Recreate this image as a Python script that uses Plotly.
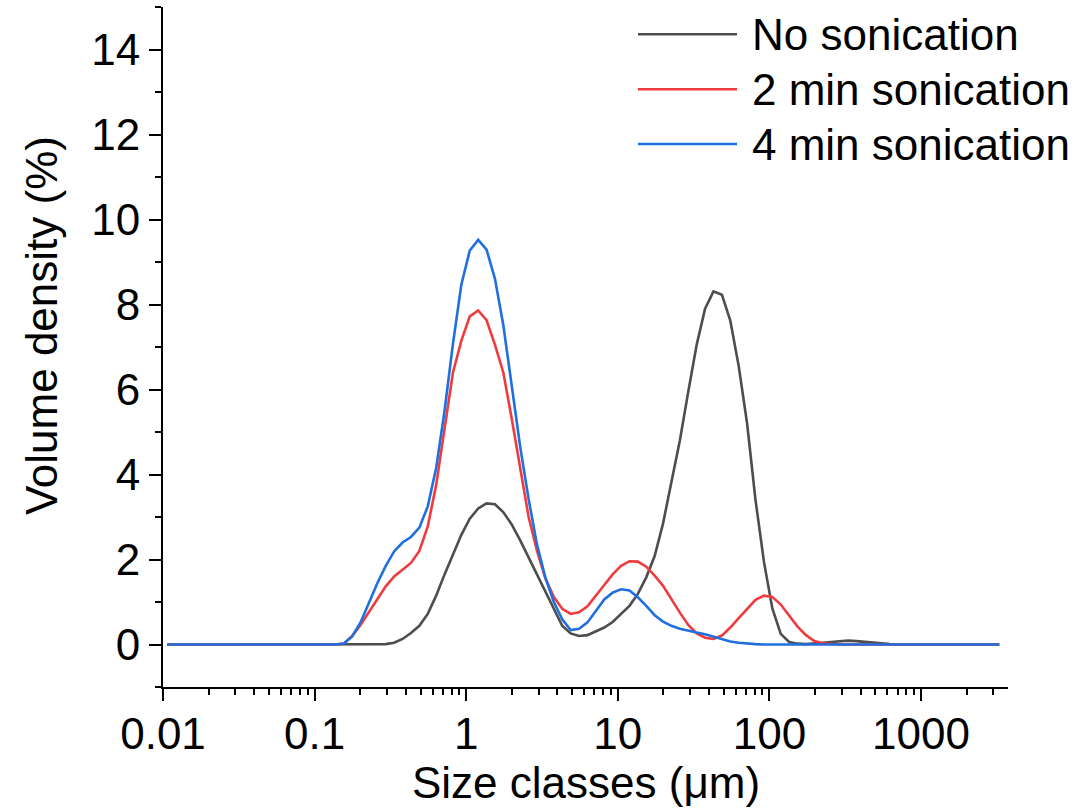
import plotly.graph_objects as go

# Size classes (µm), geometric bin centres
sizes = [
    0.01066, 0.01211, 0.01376, 0.01563, 0.01776, 0.02018, 0.02293, 0.02605, 0.02960, 0.03363,
    0.03821, 0.04341, 0.04932, 0.05604, 0.06367, 0.07234, 0.08219, 0.09338, 0.1061, 0.1205,
    0.1369, 0.1556, 0.1768, 0.2009, 0.2282, 0.2593, 0.2946, 0.3347, 0.3803, 0.4321,
    0.4909, 0.5578, 0.6337, 0.7200, 0.8180, 0.9292, 1.056, 1.200, 1.363, 1.549,
    1.760, 2.000, 2.272, 2.581, 2.932, 3.332, 3.785, 4.300, 4.886, 5.551,
    6.307, 7.166, 8.141, 9.248, 10.51, 11.94, 13.56, 15.41, 17.51, 19.89,
    22.60, 25.67, 29.17, 33.14, 37.65, 42.78, 48.61, 55.23, 62.75, 71.29,
    81.00, 92.03, 104.6, 118.8, 135.0, 153.4, 174.3, 198.0, 224.9, 255.6,
    290.4, 329.9, 374.8, 425.9, 483.9, 549.7, 624.6, 709.6, 806.3, 916.0,
    1041, 1183, 1344, 1527, 1735, 1971, 2239, 2544, 2891, 3284,
]

# Volume density (%) per size class
no_sonication = [
    0, 0, 0, 0, 0, 0, 0, 0, 0, 0,
    0, 0, 0, 0, 0, 0, 0, 0, 0, 0,
    0, 0, 0, 0, 0, 0, 0.01, 0.04, 0.13, 0.27,
    0.44, 0.72, 1.15, 1.65, 2.13, 2.58, 2.96, 3.20, 3.32, 3.30,
    3.11, 2.82, 2.45, 2.05, 1.63, 1.21, 0.81, 0.44, 0.26, 0.20,
    0.22, 0.31, 0.40, 0.53, 0.71, 0.91, 1.19, 1.58, 2.08, 2.85,
    3.83, 4.80, 5.95, 7.05, 7.90, 8.31, 8.23, 7.62, 6.55, 5.20,
    3.40, 1.95, 0.85, 0.25, 0.06, 0.02, 0.01, 0.02, 0.04, 0.06,
    0.08, 0.09, 0.08, 0.06, 0.04, 0.02, 0.01, 0, 0, 0,
    0, 0, 0, 0, 0, 0, 0, 0, 0, 0,
]

sonication_2min = [
    0, 0, 0, 0, 0, 0, 0, 0, 0, 0,
    0, 0, 0, 0, 0, 0, 0, 0, 0, 0,
    0, 0.02, 0.20, 0.46, 0.76, 1.09, 1.37, 1.60, 1.76, 1.92,
    2.20, 2.78, 3.75, 5.03, 6.40, 7.15, 7.72, 7.86, 7.63, 7.05,
    6.39, 5.30, 4.15, 3.00, 2.20, 1.55, 1.12, 0.84, 0.72, 0.76,
    0.90, 1.14, 1.40, 1.65, 1.85, 1.96, 1.95, 1.83, 1.62, 1.38,
    1.06, 0.75, 0.46, 0.26, 0.16, 0.13, 0.21, 0.40, 0.62, 0.84,
    1.05, 1.15, 1.12, 0.94, 0.68, 0.42, 0.22, 0.08, 0.03, 0.01,
    0, 0, 0, 0, 0, 0, 0, 0, 0, 0,
    0, 0, 0, 0, 0, 0, 0, 0, 0, 0,
]

sonication_4min = [
    0, 0, 0, 0, 0, 0, 0, 0, 0, 0,
    0, 0, 0, 0, 0, 0, 0, 0, 0, 0,
    0, 0.02, 0.19, 0.52, 0.98, 1.44, 1.85, 2.19, 2.40, 2.53,
    2.75, 3.25, 4.15, 5.50, 7.08, 8.47, 9.27, 9.52, 9.29, 8.60,
    7.50, 6.05, 4.65, 3.42, 2.35, 1.57, 1.00, 0.59, 0.34, 0.37,
    0.52, 0.79, 1.06, 1.22, 1.30, 1.27, 1.11, 0.91, 0.69, 0.54,
    0.44, 0.37, 0.32, 0.28, 0.24, 0.18, 0.12, 0.07, 0.04, 0.02,
    0.01, 0, 0, 0, 0, 0, 0, 0, 0, 0,
    0, 0, 0, 0, 0, 0, 0, 0, 0, 0,
    0, 0, 0, 0, 0, 0, 0, 0, 0, 0,
]

series_names = ["No sonication", "2 min sonication", "4 min sonication"]
series_colors = ["#4d4d4d", "#ef3b3d", "#1f6fe0"]
series_values = [no_sonication, sonication_2min, sonication_4min]

x_tick_vals = [0.01, 0.1, 1, 10, 100, 1000]
x_tick_text = ["0.01", "0.1", "1", "10", "100", "1000"]
x_minor_vals = [m * d for d in (0.01, 0.1, 1, 10, 100) for m in range(2, 10)] + [2000, 3000]

FONT = "Arial, Liberation Sans, sans-serif"

fig = go.Figure()
for name, color, vals in zip(series_names, series_colors, series_values):
    fig.add_trace(go.Scatter(
        x=sizes, y=vals, mode="lines", name=name,
        line=dict(color=color, width=2.6), showlegend=False,
    ))

# Hand-drawn legend: long line samples with labels to the right
legend_rows_y = [0.9599, 0.8790, 0.7985]
for name, color, ly in zip(series_names, series_colors, legend_rows_y):
    fig.add_shape(type="line", xref="paper", yref="paper",
                  x0=0.5621, x1=0.6793, y0=ly, y1=ly,
                  line=dict(color=color, width=2.6))
    fig.add_annotation(xref="paper", yref="paper", x=0.6950, y=ly,
                       xanchor="left", yanchor="middle", text=name,
                       showarrow=False, font=dict(family=FONT, size=44, color="black"))

# Axis titles
fig.add_annotation(xref="paper", yref="paper", x=0.5, y=-0.141,
                   xanchor="center", yanchor="middle", text="Size classes (μm)",
                   showarrow=False, font=dict(family=FONT, size=44, color="black"))
fig.add_annotation(xref="paper", yref="paper", x=-0.143, y=0.531,
                   xanchor="center", yanchor="middle", text="Volume density (%)",
                   textangle=-90, showarrow=False,
                   font=dict(family=FONT, size=44, color="black"))

fig.update_layout(
    width=1081, height=812,
    margin=dict(l=163, r=73, t=7, b=125),
    paper_bgcolor="white", plot_bgcolor="white",
    font=dict(family=FONT, size=44, color="black"),
    xaxis=dict(
        type="log", range=[-2, 3.574],
        tickmode="array", tickvals=x_tick_vals, ticktext=x_tick_text,
        ticks="outside", ticklen=12, tickwidth=2, tickcolor="black",
        ticklabelstandoff=-5,
        showline=True, linewidth=2, linecolor="black",
        showgrid=False, zeroline=False,
        minor=dict(tickmode="array", tickvals=x_minor_vals, ticks="outside",
                   ticklen=6, tickwidth=2, tickcolor="black", showgrid=False),
        tickfont=dict(family=FONT, size=44, color="black"),
    ),
    yaxis=dict(
        range=[-1, 15], tickmode="linear", tick0=0, dtick=2,
        ticks="outside", ticklen=12, tickwidth=2, tickcolor="black",
        showline=True, linewidth=2, linecolor="black",
        showgrid=False, zeroline=False,
        minor=dict(tickmode="linear", tick0=-1, dtick=1, ticks="outside",
                   ticklen=6, tickwidth=2, tickcolor="black", showgrid=False),
        tickfont=dict(family=FONT, size=44, color="black"),
    ),
)

fig.write_html("out.html")
